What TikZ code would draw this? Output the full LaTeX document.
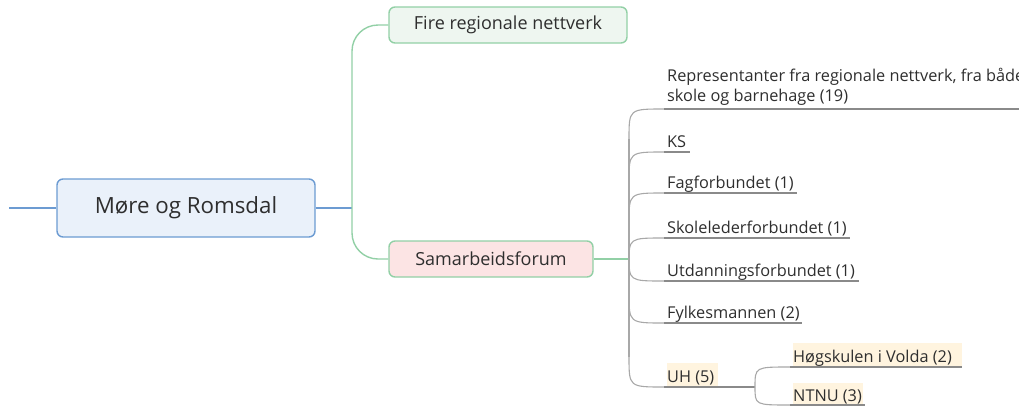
\documentclass[tikz,border=0pt]{standalone}
\usepackage{fontspec}
\setmainfont{Open Sans}
\definecolor{txt}{HTML}{2E2E2E}
\definecolor{cfill}{HTML}{EAF1FA}
\definecolor{cdraw}{HTML}{6C9BD2}
\definecolor{gfill}{HTML}{EEF6F0}
\definecolor{gdraw}{HTML}{92D0A6}
\definecolor{pfill}{HTML}{FCE4E4}
\definecolor{graycurve}{HTML}{A8A8A8}
\definecolor{grayline}{HTML}{8A8A8A}
\definecolor{cream}{HTML}{FFF4DF}
\tikzset{
  box/.style={rounded corners=6pt, line width=1.4pt, inner sep=0pt, text=txt},
  central/.style={box, draw=cdraw, fill=cfill, minimum width=258pt, minimum height=58pt, font=\fontsize{22.3}{26}\selectfont},
  topic/.style={box, draw=gdraw, minimum height=36pt, font=\fontsize{18}{21}\selectfont},
  leaf/.style={inner sep=0pt, anchor=base west, text=txt, font=\fontsize{16.3}{20.5}\selectfont},
  blueline/.style={draw=cdraw, line width=1.2pt},
  greenline/.style={draw=gdraw, line width=1.4pt},
  grayc/.style={draw=graycurve, line width=1.1pt},
  underl/.style={draw=grayline, line width=1.1pt},
}
\begin{document}
\begin{tikzpicture}[x=1pt,y=-1pt]
\useasboundingbox (0,0) rectangle (1019,407);
\clip (0,0) rectangle (1019,407);
% highlights
\fill[cream] (667,363) rectangle (718,387);
\fill[cream] (793,343) rectangle (962,367);
\fill[cream] (793,383) rectangle (863,406);
% main nodes
\node[central] (mr) at (186,208) {Møre og Romsdal};
\node[topic, fill=gfill, minimum width=238pt] (fire) at (508,25) {Fire regionale nettverk};
\node[topic, fill=pfill, minimum width=204pt] (sam) at (491,259) {Samarbeidsforum};
\coordinate (lstart) at (9,208);
\coordinate (gtrunk) at (352,208);
\coordinate (ktrunk) at (629,259);
% blue
\draw[blueline] (lstart) -- (mr.west);
\draw[blueline] (mr.east) -- (gtrunk);
% green
\draw[greenline, rounded corners=26pt] (fire.west) -| (gtrunk) |- (sam.west);
\draw[greenline] (sam.east) -- (ktrunk);
% leaves
\node[leaf, anchor=south west, align=left] (rep) at (667,106) {Representanter fra regionale nettverk, fra både\\skole og barnehage (19)};
\node[leaf] (ks) at (667,147) {KS};
\node[leaf] (fag) at (667,188) {Fagforbundet (1)};
\node[leaf] (sko) at (667,233) {Skolelederforbundet (1)};
\node[leaf] (utd) at (667,276) {Utdanningsforbundet (1)};
\node[leaf] (fyl) at (667,318) {Fylkesmannen (2)};
\node[leaf] (uh) at (667,382) {UH (5)};
\node[leaf] (hog) at (793,362) {Høgskulen i Volda (2)};
\node[leaf] (ntnu) at (793,401) {NTNU (3)};
% gray trunk
\draw[grayc] (629,139) -- (629,357);
% branch curves and underlines
\draw[grayc] (629,139) .. controls (629,109) .. (664,109);
\draw[underl] (664,109) -- (1019,109);
\draw[grayc] (629,182) .. controls (629,152) .. (664,152);
\draw[underl] (664,152) -- (690,152);
\draw[grayc] (629,223) .. controls (629,193) .. (664,193);
\draw[underl] (664,193) -- (797,193);
\draw[grayc] (629,263) .. controls (629,238) .. (664,238);
\draw[underl] (664,238) -- (850,238);
\draw[grayc] (629,256) .. controls (629,281) .. (664,281);
\draw[underl] (664,281) -- (859,281);
\draw[grayc] (629,293) .. controls (629,323) .. (664,323);
\draw[underl] (664,323) -- (802,323);
\draw[grayc] (629,357) .. controls (629,387) .. (664,387);
\draw[underl] (664,387) -- (755,387);
\coordinate (uhb) at (755,387);
\draw[grayc] (uhb) .. controls (755,367) .. (790,367);
\draw[underl] (790,367) -- (962,367);
\draw[grayc] (uhb) .. controls (755,405) .. (790,405);
\draw[underl] (790,405) -- (865,405);
\end{tikzpicture}
\end{document}
